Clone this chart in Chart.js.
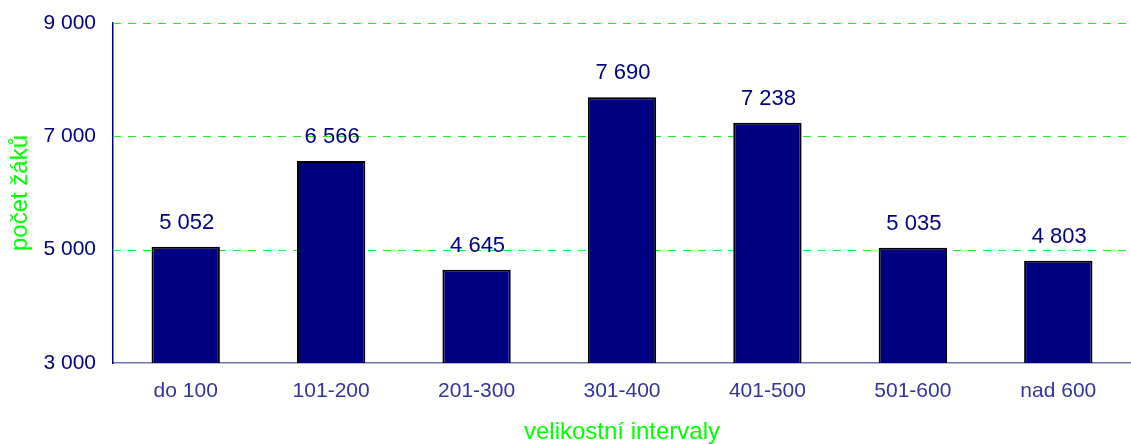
<!DOCTYPE html>
<html>
<head>
<meta charset="utf-8">
<script src="https://cdn.jsdelivr.net/npm/chart.js@4/dist/chart.umd.min.js"></script>
<style>
	body { margin: 0; background: #fff; }
	canvas { display: block; }
</style>
</head>
<body>
<canvas id="chart" width="1131" height="444"></canvas>
<script>
const categories = ['do 100', '101-200', '201-300', '301-400', '401-500', '501-600', 'nad 600'];
const pupils = [5052, 6566, 4645, 7690, 7238, 5035, 4803];
const yMin = 3000;
const yMax = 9000;
const yStep = 2000;
const yTitle = 'počet žáků';
const xTitle = 'velikostní intervaly';

const FONT = '"Liberation Sans", Arial, sans-serif';
const NAVY = '#000080';
const GREEN = '#00ff00';

function fmt(v) {
	return String(v).replace(/\B(?=(\d{3})+(?!\d))/g, ' ');
}

// dashed green grid, drawn from the y scale ticks
const dashedGrid = {
	id: 'dashedGrid',
	beforeDatasetsDraw(chart) {
		const ctx = chart.ctx;
		const y = chart.scales.y;
		const area = chart.chartArea;
		ctx.save();
		ctx.strokeStyle = '#22ee22';
		ctx.lineWidth = 1;
		ctx.setLineDash([8, 7]);
		y.ticks.forEach(t => {
			if (t.value === yMin) return;
			const py = Math.round(y.getPixelForValue(t.value)) + 0.5;
			ctx.beginPath();
			ctx.moveTo(area.left, py);
			ctx.lineTo(area.right, py);
			ctx.stroke();
		});
		ctx.restore();
	}
};

// value labels above the bars
const valueLabels = {
	id: 'valueLabels',
	afterDatasetsDraw(chart) {
		const ctx = chart.ctx;
		const meta = chart.getDatasetMeta(0);
		ctx.save();
		ctx.font = '22px ' + FONT;
		ctx.fillStyle = NAVY;
		ctx.textAlign = 'center';
		ctx.textBaseline = 'alphabetic';
		meta.data.forEach((bar, i) => {
			ctx.fillText(fmt(pupils[i]), bar.x + 1, bar.y - 18);
		});
		ctx.restore();
	}
};

let ctx = document.getElementById('chart').getContext('2d');
let chart = new Chart(ctx, {
	type: 'bar',
	data: {
		labels: categories,
		datasets: [{
			data: pupils,
			backgroundColor: NAVY,
			borderColor: '#000000',
			borderWidth: 2,
			barPercentage: 0.47,
			categoryPercentage: 1
		}]
	},
	options: {
		responsive: false,
		animation: false,
		devicePixelRatio: 1,
		layout: { padding: 0 },
		plugins: { legend: { display: false }, tooltip: { enabled: false } },
		scales: {
			x: {
				afterFit: s => { s.height = 81; s.paddingLeft = 0; s.paddingRight = 0; },
				grid: { display: false, drawTicks: false },
				border: { display: true, color: '#7070b4', width: 1.5 },
				ticks: { color: '#34349a', font: { size: 21, family: FONT }, padding: 16 },
				title: {
					display: true,
					text: xTitle,
					color: GREEN,
					font: { size: 24, family: FONT, lineHeight: 1 },
					padding: 0
				}
			},
			y: {
				min: yMin,
				max: yMax,
				afterFit: s => { s.width = 113; s.paddingTop = 23; s.paddingBottom = 0; },
				grid: { display: false, drawTicks: false },
				border: { display: true, color: NAVY, width: 1.5 },
				ticks: {
					stepSize: yStep,
					color: NAVY,
					font: { size: 21, family: FONT },
					padding: 17,
					callback: v => fmt(v)
				},
				title: {
					display: true,
					text: yTitle,
					color: GREEN,
					font: { size: 24, family: FONT },
					padding: { top: 6, bottom: 0 }
				}
			}
		}
	},
	plugins: [dashedGrid, valueLabels]
});
</script>
</body>
</html>
